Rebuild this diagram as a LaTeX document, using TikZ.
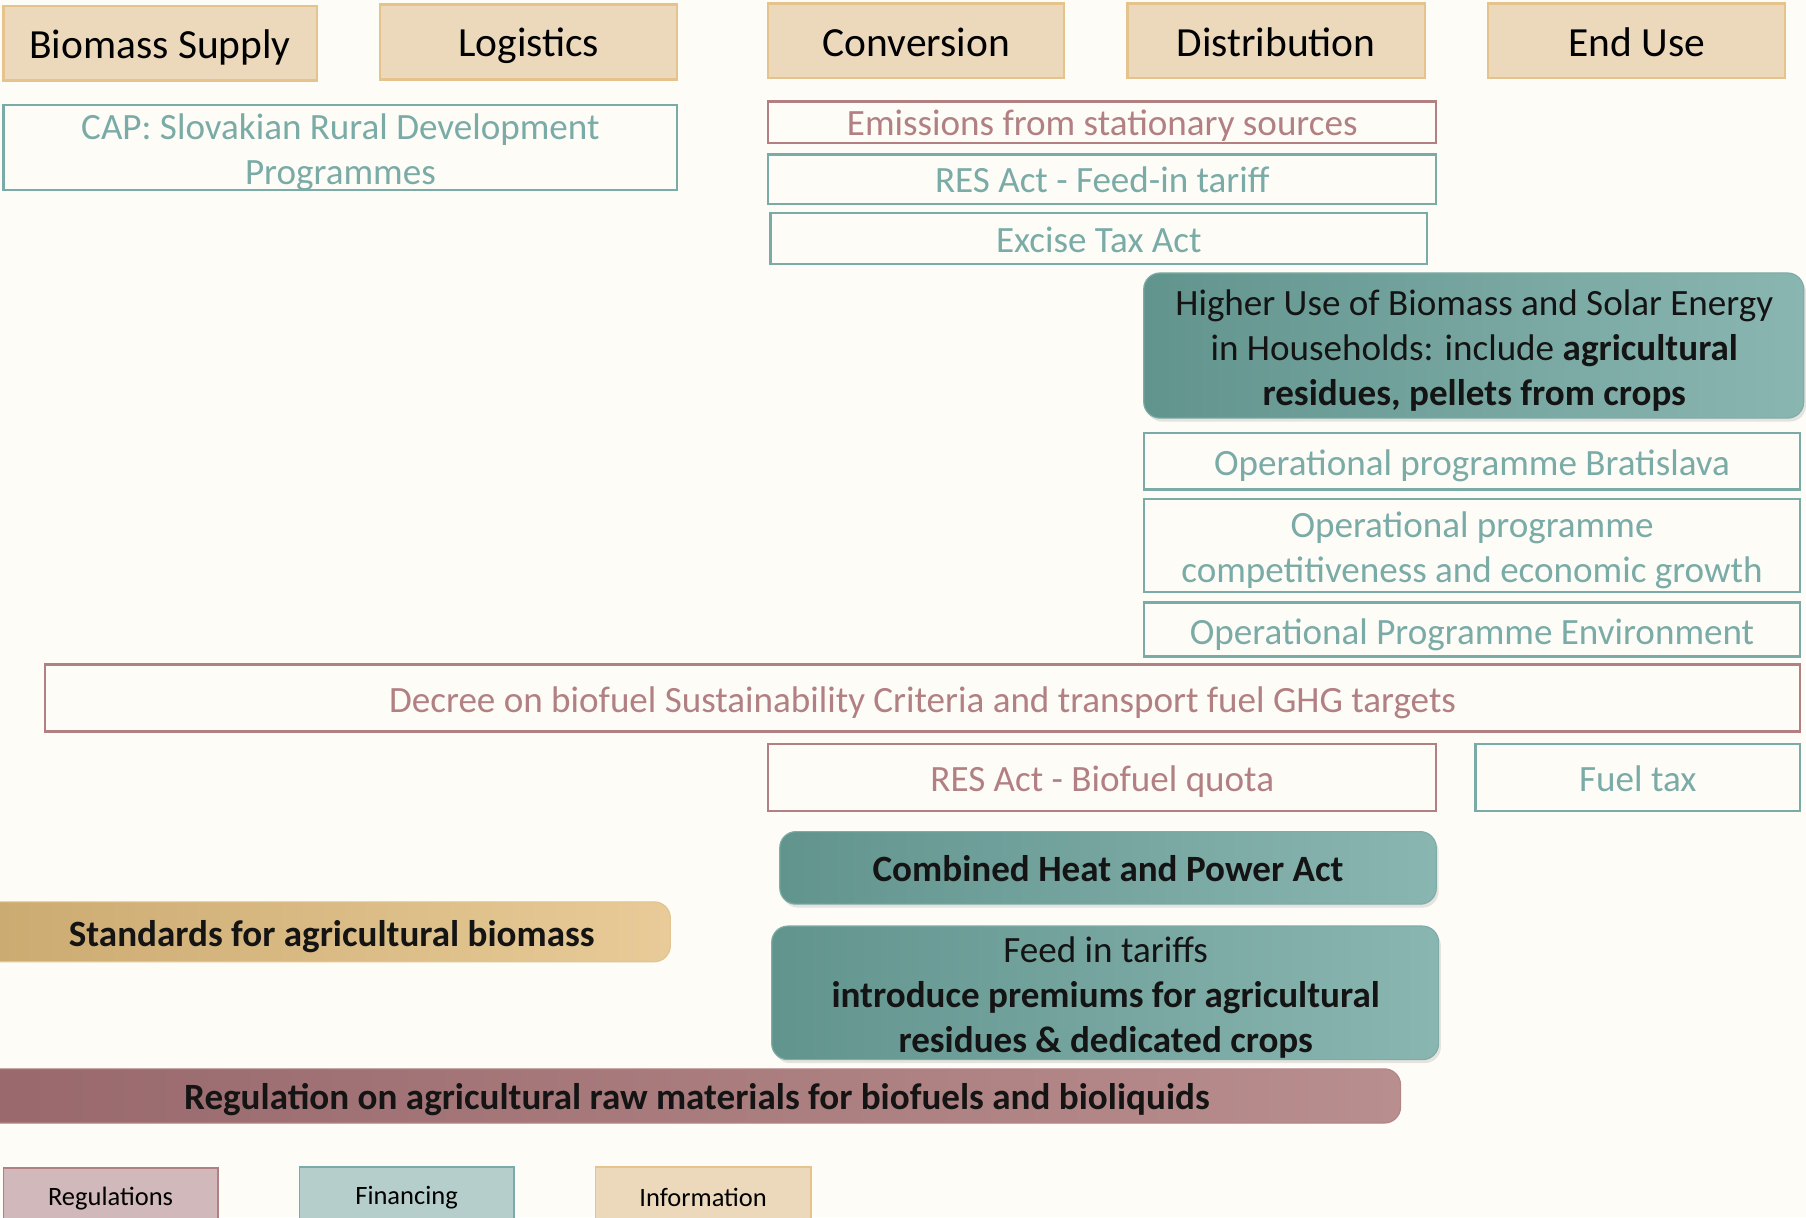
\documentclass[tikz,border=0pt]{standalone}
\usepackage{fontspec}
\setmainfont{Carlito}
\usetikzlibrary{shadows}

\definecolor{bgcream}{RGB}{253,252,247}
\definecolor{hdrfill}{RGB}{236,217,187}
\definecolor{hdrline}{RGB}{228,196,140}
\definecolor{tealline}{RGB}{122,171,166}
\definecolor{roseline}{RGB}{178,128,131}
\definecolor{tealdark}{RGB}{98,148,142}
\definecolor{teallight}{RGB}{138,182,177}
\definecolor{tandark}{RGB}{203,170,112}
\definecolor{tanlight}{RGB}{232,203,152}
\definecolor{rosedark}{RGB}{152,104,108}
\definecolor{roselight}{RGB}{185,142,142}
\definecolor{regkey}{RGB}{208,184,187}
\definecolor{finkey}{RGB}{181,206,203}

\tikzset{
  hdrbox/.style={draw=hdrline, fill=hdrfill, line width=1pt},
  rosebox/.style={draw=roseline, line width=1pt},
  tealbox/.style={draw=tealline, line width=1pt},
  tealshade/.style={left color=tealdark, right color=teallight, draw=teallight!70!tealdark, line width=0.5pt, rounded corners=7pt,
    drop shadow={opacity=0.2, shadow xshift=1pt, shadow yshift=-1.5pt}},
  tanshade/.style={left color=tandark, right color=tanlight, draw=tanlight!80!tandark, line width=0.5pt, rounded corners=7pt},
  roseshade/.style={left color=rosedark, right color=roselight, draw=roselight!80!rosedark, line width=0.5pt, rounded corners=7pt},
  hdrtext/.style={font=\fontsize{18}{22}\selectfont, text=black, inner sep=0pt},
  rosetext/.style={font=\fontsize{16.1}{19.5}\selectfont, text=roseline, align=center, inner sep=0pt},
  tealtext/.style={font=\fontsize{16.1}{19.5}\selectfont, text=tealline, align=center, inner sep=0pt},
  darktext/.style={font=\fontsize{16.1}{19.5}\selectfont, text=black!92, align=center, inner sep=0pt},
  keytext/.style={font=\fontsize{11.5}{14}\selectfont, text=black, inner sep=0pt}
}

\begin{document}
\begin{tikzpicture}[x=0.5pt,y=0.5pt,yscale=-1,xscale=1]
\fill[bgcream] (0,0) rectangle (1568,1057);
\clip (0,0) rectangle (1568,1057);

% value chain headers
\draw[hdrbox] (3,5) rectangle (275,70);
\draw[hdrbox] (330,4) rectangle (588,69);
\draw[hdrbox] (667,3) rectangle (924,68);
\draw[hdrbox] (979,3) rectangle (1237,68);
\draw[hdrbox] (1292,3) rectangle (1550,68);
\node[hdrtext] (supply) at (139,41) {Biomass Supply};
\node[hdrtext] (logist) at (459,40) {Logistics};
\node[hdrtext] (convers) at (795.5,37) {Conversion};
\node[hdrtext] (distrib) at (1108,37) {Distribution};
\node[hdrtext] (enduse) at (1421,37) {End Use};

% outlined measures
\draw[tealbox] (3,91) rectangle (588,165);
\node[tealtext] (cap) at (295.5,132) {CAP: Slovakian Rural Development\\Programmes};
\draw[rosebox] (667,88) rectangle (1247,124);
\node[rosetext] (emis) at (957,109) {Emissions from stationary sources};
\draw[tealbox] (667,134) rectangle (1247,177);
\node[tealtext] (resfit) at (957,156) {RES Act - Feed-in tariff};
\draw[tealbox] (669,185) rectangle (1239,229);
\node[tealtext] (excise) at (954,208) {Excise Tax Act};

% households
\shade[tealshade] (993,237) rectangle (1566,363);
\node[darktext] (house) at (1280,304) {Higher Use of Biomass and Solar Energy\\in Households: include \textbf{agricultural}\\\textbf{residues, pellets from crops}};

\draw[tealbox] (993,376) rectangle (1563,425);
\node[tealtext] (opbrat) at (1278,404) {Operational programme Bratislava};
\draw[tealbox] (993,433) rectangle (1563,514);
\node[tealtext] (opcomp) at (1278,478) {Operational programme\\competitiveness and economic growth};
\draw[tealbox] (993,523) rectangle (1563,570);
\node[tealtext] (openv) at (1278,551) {Operational Programme Environment};

\draw[rosebox] (39,577) rectangle (1563,635);
\node[rosetext] (decree) at (801,610) {Decree on biofuel Sustainability Criteria and transport fuel GHG targets};
\draw[rosebox] (667,646) rectangle (1247,704);
\node[rosetext] (quota) at (957,679) {RES Act - Biofuel quota};
\draw[tealbox] (1281,646) rectangle (1563,704);
\node[tealtext] (fueltax) at (1422,676) {Fuel tax};

% filled measures
\shade[tealshade] (677,722) rectangle (1247,785);
\node[darktext] (chp) at (962,754) {\textbf{Combined Heat and Power Act}};
\shade[tanshade] (-20,783) rectangle (582,835);
\node[darktext] (standards) at (288,813) {\textbf{Standards for agricultural biomass}};
\shade[tealshade] (670,804) rectangle (1249,920);
\node[darktext] (feedin) at (960,866) {Feed in tariffs\\\textbf{introduce premiums for agricultural}\\\textbf{residues \& dedicated crops}};
\shade[roseshade] (-20,928) rectangle (1216,975);
\node[darktext] (rawmat) at (605,955) {\textbf{Regulation on agricultural raw materials for biofuels and bioliquids}};

% legend
\draw[draw=roseline, fill=regkey, line width=0.8pt] (3,1014) rectangle (189,1070);
\node[keytext] (keyreg) at (96,1041) {Regulations};
\draw[draw=tealline, fill=finkey, line width=0.8pt] (260,1013) rectangle (446,1070);
\node[keytext] (keyfin) at (353,1040) {Financing};
\draw[draw=hdrline, fill=hdrfill, line width=0.8pt] (517,1013) rectangle (704,1070);
\node[keytext] (keyinfo) at (610.5,1040) {Information};

\end{tikzpicture}
\end{document}
